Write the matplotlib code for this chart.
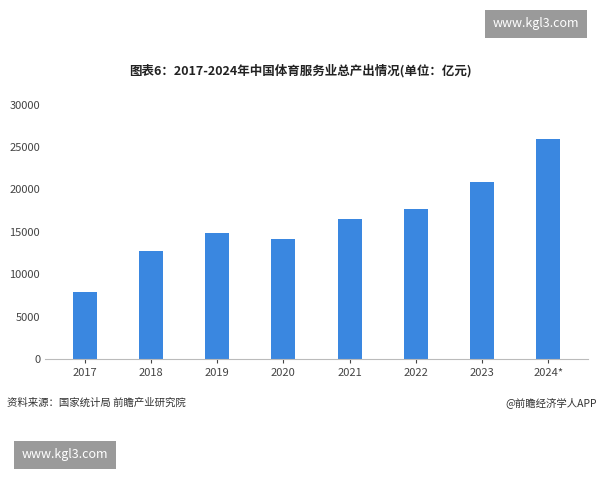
import matplotlib.pyplot as plt

plt.rcParams['font.family'] = ['Noto Sans CJK SC', 'DejaVu Sans']

years = ['2017', '2018', '2019', '2020', '2021', '2022', '2023', '2024*']
values = [7900, 12700, 14900, 14100, 16500, 17700, 20900, 26000]

fig = plt.figure(figsize=(6, 4.8), dpi=100)
ax = fig.add_axes([0.075, 0.252, 0.905, 0.53])
ax.bar(years, values, width=0.36, color='#3a87e0')
ax.set_ylim(0, 30000)
ax.set_yticks(range(0, 30001, 5000))
ax.set_xlim(-0.6, 7.6)
for s in ['top', 'right', 'left']:
    ax.spines[s].set_visible(False)
ax.spines['bottom'].set_color('#bbbbbb')
ax.tick_params(axis='y', length=0, labelsize=8, colors='#444444')
ax.tick_params(axis='x', length=3, labelsize=8, colors='#444444')

fig.text(0.5, 0.845, '图表6：2017-2024年中国体育服务业总产出情况(单位：亿元)',
         ha='center', fontsize=9, fontweight='bold', color='#222222')
fig.text(0.012, 0.155, '资料来源：国家统计局 前瞻产业研究院', fontsize=7.5, color='#333333')
fig.text(0.995, 0.155, '@前瞻经济学人APP', ha='right', fontsize=7.5, color='#333333')

fig.text(0.893, 0.951, 'www.kgl3.com', ha='center', va='center', fontsize=9,
         color='white', bbox=dict(boxstyle='square,pad=0.6', fc='#9a9a9a', ec='none'))
fig.text(0.108, 0.053, 'www.kgl3.com', ha='center', va='center', fontsize=9,
         color='white', bbox=dict(boxstyle='square,pad=0.6', fc='#9a9a9a', ec='none'))

fig.savefig('out.png')
